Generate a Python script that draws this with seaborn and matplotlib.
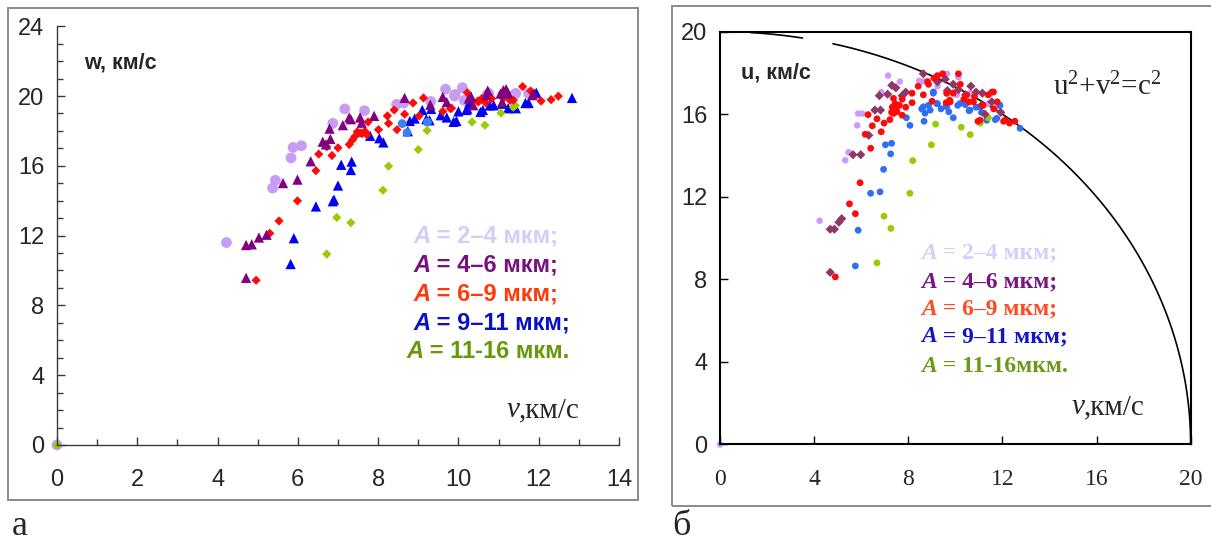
import numpy as np
import pandas as pd
import matplotlib
matplotlib.use("Agg")
import matplotlib.pyplot as plt
from matplotlib.patches import Rectangle
from matplotlib.ticker import MultipleLocator
import seaborn as sns

# ---------------- data: panel (a), w vs v ----------------
a_v_2_4 = [0, 4.22, 5.37, 5.44, 5.83, 5.88, 6.09, 6.87, 7.17, 7.66, 8.46, 8.64, 9.31, 9.68,
           9.92, 10.10, 10.15, 10.76, 11.43, 11.75, 9.90, 10.72, 11.38]
a_w_2_4 = [0, 11.60, 14.72, 15.17, 16.45, 17.05, 17.15, 18.43, 19.26, 19.16, 19.52, 19.60, 19.69, 20.39,
           20.09, 20.48, 19.75, 20.15, 20.15, 20.15, 20.00, 20.09, 20.05]

a_v_4_6 = [4.71, 4.71, 4.85, 5.03, 5.22, 5.63, 5.99, 6.32, 6.62, 6.70, 6.79, 6.81, 7.12, 7.28,
           7.32, 7.55, 7.59, 7.90, 8.66, 9.30, 9.61, 9.71, 10.32, 10.73, 11.19, 11.24, 11.88,
           10.26, 10.37, 10.70, 11.05, 11.12, 11.09, 11.84]
a_w_4_6 = [9.58, 11.46, 11.50, 11.89, 12.05, 15.01, 15.21, 16.26, 17.38, 17.23, 18.13, 17.54, 18.33, 18.77,
           18.67, 18.77, 18.47, 18.86, 19.89, 19.50, 19.95, 19.65, 19.95, 20.31, 20.39, 20.15, 20.15,
           19.86, 19.47, 20.05, 20.14, 20.33, 19.66, 20.05]

a_v_6_9 = [4.96, 5.30, 5.53, 5.99, 6.45, 6.52, 6.72, 6.85, 7.00, 7.28, 7.36, 7.42, 7.55, 7.67,
           7.72, 7.75, 8.01, 8.23, 8.26, 8.40, 8.47, 8.66, 8.87, 9.02, 9.13, 9.61, 9.83, 10.22,
           10.48, 10.58, 10.68, 10.83, 11.09, 11.29, 11.60, 11.80, 12.06, 12.31, 12.49, 10.50,
           11.12, 11.37, 7.48, 7.60, 9.80]
a_w_6_9 = [9.44, 12.13, 12.84, 13.99, 15.72, 16.67, 17.09, 16.59, 17.03, 17.22, 17.48, 17.68, 17.88, 17.98,
           17.78, 18.51, 18.07, 18.86, 18.43, 19.20, 18.07, 18.96, 19.60, 18.86, 19.89, 19.12, 19.30, 20.19,
           19.71, 19.85, 19.61, 19.85, 20.15, 19.75, 20.54, 20.29, 19.71, 19.79, 19.99, 19.66,
           19.87, 19.76, 17.95, 17.85, 19.28]

a_v_9_11 = [5.82, 5.90, 6.45, 6.87, 6.90, 7.00, 7.08, 7.32, 7.34, 7.80, 8.03, 8.13, 8.74, 8.79,
            8.91, 9.10, 9.20, 9.28, 9.32, 9.56, 9.71, 9.95, 10.00, 10.20, 10.27, 10.61, 10.78,
            11.09, 11.24, 11.43, 11.67, 11.75, 11.94, 12.83, 10.55, 10.88, 9.88, 10.22]
a_w_9_11 = [10.37, 11.85, 13.67, 13.97, 14.06, 14.87, 16.06, 15.76, 16.24, 17.72, 17.58, 17.34, 17.98, 18.57,
            18.71, 19.20, 18.67, 18.61, 19.26, 18.90, 18.77, 18.57, 19.12, 19.20, 19.60, 19.20, 19.46,
            19.56, 19.30, 19.30, 19.60, 19.60, 20.19, 19.89, 19.09, 19.47, 18.52, 19.28]
a_v_9_11_round = [8.60, 8.72, 9.23]
a_w_9_11_round = [18.42, 17.90, 18.50]

a_v_11_16 = [0, 6.72, 6.97, 7.32, 8.12, 8.26, 9.00, 9.22, 10.34, 10.66, 11.06, 11.37, 11.42]
a_w_11_16 = [0, 10.94, 13.04, 12.74, 14.60, 15.98, 16.93, 18.02, 18.51, 18.33, 19.02, 19.36, 19.46]

# ---------------- data: panel (б), u vs v ----------------
b_v_2_4 = [0, 4.23, 5.32, 5.46, 5.83, 5.87, 6.05, 6.85, 7.14, 7.64, 8.46, 8.64, 9.24, 9.64,
           9.91, 10.06, 10.13, 10.61, 11.40, 11.75]
b_u_2_4 = [0, 10.84, 13.77, 14.16, 15.46, 16.03, 16.03, 17.07, 17.87, 17.58, 17.62, 17.58, 17.36, 17.96,
           17.45, 16.94, 17.79, 17.02, 16.51, 16.34]

b_v_4_6 = [4.68, 4.68, 4.86, 5.05, 5.17, 5.65, 5.98, 6.32, 6.58, 6.82, 6.77, 7.12, 7.30, 7.47,
           7.74, 7.89, 8.64, 9.24, 9.57, 9.66, 9.91, 10.13, 10.43, 10.66, 10.88, 11.15, 11.11,
           11.26, 11.55, 11.93]
b_u_4_6 = [8.34, 10.43, 10.43, 10.77, 10.94, 14.04, 14.04, 14.98, 16.20, 16.20, 16.90, 16.97, 17.40, 17.28,
           16.90, 17.07, 17.96, 17.57, 17.70, 17.14, 17.45, 17.19, 16.94, 17.36, 17.07, 17.02, 16.43,
           16.00, 16.60, 16.09]

b_v_6_9 = [4.90, 5.75, 5.50, 5.95, 6.40, 6.17, 6.47, 6.85, 6.29, 6.67, 6.97, 7.22, 7.29, 7.32,
           7.44, 7.52, 7.62, 7.74, 7.74, 7.89, 7.37, 8.16, 8.16, 8.42, 8.64, 8.82, 8.86, 9.09,
           9.24, 9.46, 9.01, 9.61, 9.76, 9.91, 10.13, 10.21, 10.36, 10.58, 10.81, 10.96, 11.18,
           11.40, 11.55, 11.63, 12.05, 12.30, 12.53, 11.78, 7.51, 7.37, 9.63, 9.78, 10.48, 10.77,
           11.62, 11.05, 12.11]
b_u_6_9 = [8.12, 11.18, 11.66, 12.68, 14.35, 15.03, 15.44, 15.15, 15.98, 15.78, 15.57, 15.74, 16.09, 16.34,
           16.51, 16.12, 16.43, 15.95, 16.73, 16.34, 16.77, 17.02, 16.56, 17.36, 16.94, 17.58, 17.45, 17.75,
           17.87, 17.96, 16.63, 16.56, 16.68, 17.02, 17.96, 17.45, 16.73, 16.60, 16.85, 15.66, 16.43,
           16.94, 17.07, 16.26, 15.66, 15.57, 15.66, 16.60, 16.36, 16.04, 17.01, 16.60, 16.93, 16.60,
           17.08, 15.71, 15.71]

b_v_9_11 = [5.75, 5.87, 6.40, 6.80, 6.95, 7.03, 7.29, 7.25, 7.92, 8.07, 8.67, 8.57, 8.71, 8.86,
            9.06, 9.24, 9.39, 9.61, 9.72, 9.91, 10.10, 10.43, 10.58, 10.88, 11.11, 11.33, 11.70,
            11.90, 12.75, 8.93, 9.21, 9.63, 10.20, 10.62, 11.05, 11.76, 9.07, 8.64]
b_u_9_11 = [8.65, 10.38, 12.17, 12.24, 13.33, 14.52, 14.59, 14.08, 15.83, 15.46, 15.66, 16.26, 16.05, 16.43,
            17.02, 16.51, 16.26, 16.43, 16.12, 15.83, 16.43, 16.46, 16.17, 16.34, 16.09, 15.71, 15.74,
            16.43, 15.32, 16.20, 16.52, 16.36, 16.52, 16.20, 16.36, 15.80, 17.08, 16.36]

b_v_11_16 = [6.67, 6.97, 7.26, 8.07, 8.19, 8.98, 9.16, 10.25, 10.63, 11.06, 11.40]
b_u_11_16 = [8.80, 11.06, 10.47, 12.17, 13.75, 14.52, 15.52, 15.37, 15.01, 15.57, 15.83]

c_light = 20.0  # radius of u^2 + v^2 = c^2
arc_pieces = [(1.3, 3.5), (4.8, 20.0)]

groups = ["A = 2–4 мкм;", "A = 4–6 мкм;", "A = 6–9 мкм;", "A = 9–11 мкм;", "A = 11-16 мкм."]
legend_b = ["A = 2–4 мкм;", "A = 4–6 мкм;", "A = 6–9 мкм;", "A = 9–11 мкм;", "A = 11-16мкм."]

pts_a_colors = ["#c99cf3", "#800080", "#ff0a0a", "#0000f5", "#99cc00"]
text_a_colors = ["#cfcff9", "#7a0f80", "#ff3a0a", "#0a10c8", "#66990a"]
pts_b_colors = ["#cc99ff", "#8e3866", "#ff0a0a", "#2f6ff0", "#99cc00"]
text_b_colors = ["#d0d0fa", "#7a1480", "#ff4b1e", "#1414c8", "#6b9a14"]


def frame(v, y, label):
    return pd.DataFrame({"v": v, "y": y, "group": label})


df_a = pd.concat([
    frame(a_v_2_4, a_w_2_4, "2-4"),
    frame(a_v_9_11, a_w_9_11, "9-11"),
    frame(a_v_9_11_round, a_w_9_11_round, "9-11r"),
    frame(a_v_11_16, a_w_11_16, "11-16"),
    frame(a_v_6_9, a_w_6_9, "6-9"),
    frame(a_v_4_6, a_w_4_6, "4-6"),
], ignore_index=True)

df_b = pd.concat([
    frame(b_v_2_4, b_u_2_4, "2-4"),
    frame(b_v_9_11, b_u_9_11, "9-11"),
    frame(b_v_11_16, b_u_11_16, "11-16"),
    frame(b_v_4_6, b_u_4_6, "4-6"),
    frame(b_v_6_9, b_u_6_9, "6-9"),
], ignore_index=True)

sns.set_style("white")
plt.rcParams["font.family"] = ["Liberation Sans", "DejaVu Sans"]
plt.rcParams["mathtext.fontset"] = "custom"
plt.rcParams["mathtext.rm"] = "Liberation Serif"
plt.rcParams["mathtext.it"] = "Liberation Serif:italic"

fig = plt.figure(figsize=(12.11, 5.46), dpi=100)

# outer chart-area borders
fig.add_artist(Rectangle((0.0066, 0.084), 0.5204, 0.901, transform=fig.transFigure,
                         fill=False, edgecolor="#8a8a8a", lw=1.4))
fig.add_artist(Rectangle((0.555, 0.073), 0.47, 0.916, transform=fig.transFigure,
                         fill=False, edgecolor="#8a8a8a", lw=1.4))

# ---------------- panel (a) ----------------
ax1 = fig.add_axes([0.0471, 0.185, 0.464, 0.767])
sns.scatterplot(
    data=df_a, x="v", y="y", hue="group", style="group", size="group",
    palette={"2-4": pts_a_colors[0], "4-6": pts_a_colors[1], "6-9": pts_a_colors[2],
             "9-11": pts_a_colors[3], "9-11r": "#3b82f0", "11-16": pts_a_colors[4]},
    markers={"2-4": "o", "4-6": "^", "6-9": "D", "9-11": "^", "9-11r": "o", "11-16": "D"},
    sizes={"2-4": 60, "4-6": 55, "6-9": 22, "9-11": 55, "9-11r": 40, "11-16": 22},
    edgecolor="none", linewidth=0, legend=False, ax=ax1, clip_on=False,
)
ax1.set_xlim(0, 14)
ax1.set_ylim(0, 24)
ax1.xaxis.set_major_locator(MultipleLocator(2))
ax1.xaxis.set_minor_locator(MultipleLocator(1))
ax1.yaxis.set_major_locator(MultipleLocator(4))
ax1.yaxis.set_minor_locator(MultipleLocator(1))
for s in ["top", "right"]:
    ax1.spines[s].set_visible(False)
for s in ["left", "bottom"]:
    ax1.spines[s].set_color("#3a3a3a")
    ax1.spines[s].set_linewidth(1.0)
ax1.tick_params(axis="both", which="both", direction="in", color="#3a3a3a", width=1.0,
                bottom=True, left=True)
ax1.tick_params(axis="both", which="major", length=6)
ax1.tick_params(axis="both", which="minor", length=4)
ax1.tick_params(axis="x", which="major", pad=17, labelsize=17)
ax1.tick_params(axis="y", which="major", pad=9, labelsize=17)
ax1.set_xlabel("")
ax1.set_ylabel("")

ax1.text(0.67, 21.9, "w, км/с", fontsize=15.5, fontweight="bold", ha="left", va="center")
tv = ax1.text(11.2, 2.0, "v", fontsize=21, family="Liberation Serif", style="italic",
              ha="left", va="center")
ax1.annotate(",км/с", xy=(1, 0), xycoords=tv, fontsize=21, family="Liberation Serif",
             ha="left", va="bottom")

a_rows = [11.97, 10.31, 8.65, 6.99, 5.33]
a_left = [8.88, 8.88, 8.88, 8.88, 8.70]
for lab, col, yv, xv in zip(groups, text_a_colors, a_rows, a_left):
    t0 = ax1.text(xv, yv, "A", fontsize=17, fontweight="bold", style="italic",
                  color=col, ha="left", va="center")
    ax1.annotate(lab[1:], xy=(1, 0), xycoords=t0, fontsize=17, fontweight="bold",
                 color=col, ha="left", va="bottom")

# ---------------- panel (б) ----------------
ax2 = fig.add_axes([0.5946, 0.1859, 0.3886, 0.7561])
for lo, hi in arc_pieces:
    ang = np.linspace(np.arccos(lo / c_light), np.arccos(hi / c_light), 300)
    ax2.plot(c_light * np.cos(ang), c_light * np.sin(ang), color="black", lw=1.2,
             clip_on=False, zorder=1)

sns.scatterplot(
    data=df_b, x="v", y="y", hue="group", style="group", size="group",
    palette={"2-4": pts_b_colors[0], "4-6": pts_b_colors[1], "6-9": pts_b_colors[2],
             "9-11": pts_b_colors[3], "11-16": pts_b_colors[4]},
    markers={"2-4": "o", "4-6": "D", "6-9": "o", "9-11": "o", "11-16": "o"},
    sizes={"2-4": 22, "4-6": 22, "6-9": 24, "9-11": 24, "11-16": 24},
    edgecolor="none", linewidth=0, legend=False, ax=ax2, clip_on=False, zorder=2,
)
ax2.set_xlim(0, 20)
ax2.set_ylim(0, 20)
ax2.set_xticks([0, 4, 8, 12, 16, 20])
ax2.set_yticks([0, 4, 8, 12, 16, 20])
for s in ["top", "right", "left", "bottom"]:
    ax2.spines[s].set_visible(True)
    ax2.spines[s].set_color("black")
    ax2.spines[s].set_linewidth(1.5)
ax2.tick_params(axis="both", which="major", direction="in", length=6, width=1.0, color="black",
                bottom=True, left=True)
ax2.tick_params(axis="x", pad=18, labelsize=17)
ax2.tick_params(axis="y", pad=9, labelsize=17)
for lbl in ax2.get_xticklabels():
    lbl.set_family("Liberation Serif")
ax2.set_xlabel("")
ax2.set_ylabel("")

ax2.text(0.89, 17.99, "u, км/с", fontsize=15.5, fontweight="bold", ha="left", va="center")
ax2.text(14.15, 17.3, r"u$^2$+v$^2$=c$^2$", fontsize=21, family="Liberation Serif",
         ha="left", va="center")
tv2 = ax2.text(14.92, 1.82, "v", fontsize=21, family="Liberation Serif", style="italic",
               ha="left", va="center")
ax2.annotate(",км/с", xy=(1, 0), xycoords=tv2, fontsize=21, family="Liberation Serif",
             ha="left", va="bottom")

b_rows = [9.27, 7.87, 6.56, 5.21, 3.80]
for lab, col, yv in zip(legend_b, text_b_colors, b_rows):
    t0 = ax2.text(8.57, yv, "A", fontsize=17, fontweight="bold", style="italic",
                  family="Liberation Serif", color=col, ha="left", va="center")
    ax2.annotate(lab[1:], xy=(1, 0), xycoords=t0, fontsize=17, fontweight="bold",
                 family="Liberation Serif", color=col, ha="left", va="bottom")

# panel letters
fig.text(0.010, 0.035, "а", fontsize=26, family="Liberation Serif", ha="left", va="center")
fig.text(0.555, 0.035, "б", fontsize=26, family="Liberation Serif", ha="left", va="center")

fig.savefig("out.png", dpi=100)
